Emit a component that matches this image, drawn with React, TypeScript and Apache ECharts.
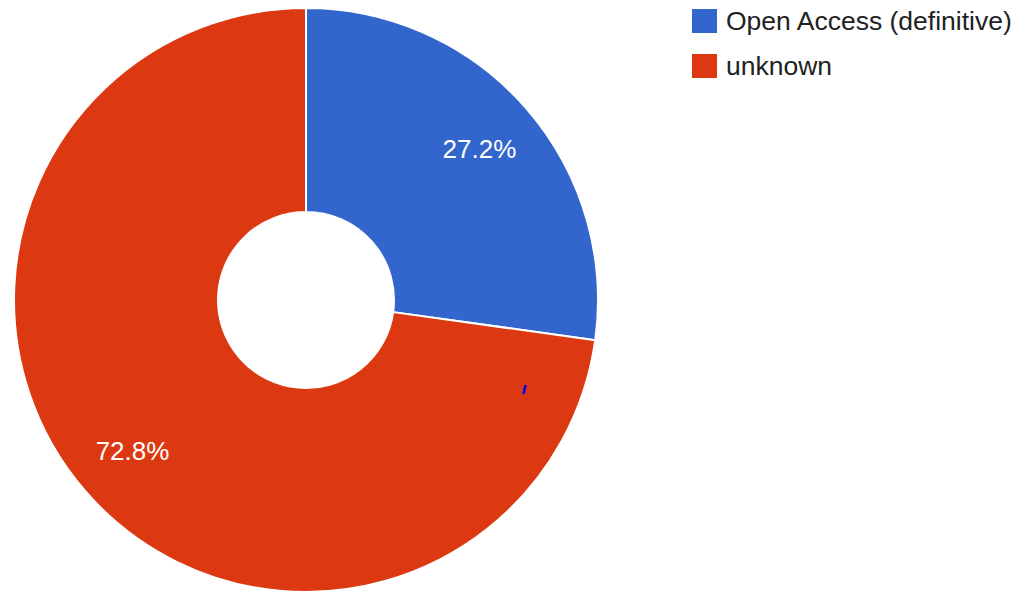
import React, { useEffect, useRef } from "react";
import * as echarts from "echarts";

const categories = ["Open Access (definitive)", "unknown"];
const values = [27.2, 72.8];
const colors = ["#3366cc", "#dc3912"];

export default function App() {
  const ref = useRef<HTMLDivElement>(null);
  useEffect(() => {
    if (!ref.current) return;
    const chart = echarts.init(ref.current, undefined, { renderer: "svg" });
    const data = categories.map((name, i) => ({ name, value: values[i] }));
    chart.setOption({
      animation: false,
      color: colors,
      textStyle: { fontFamily: "Liberation Sans, Arial, sans-serif" },
      legend: {
        orient: "vertical",
        left: 690,
        top: 7,
        padding: 0,
        itemWidth: 27,
        itemHeight: 26,
        itemGap: 17,
        icon: "rect",
        data: categories,
        textStyle: {
          fontSize: 26.5,
          color: "#222222",
          fontFamily: "Liberation Sans, Arial, sans-serif",
          padding: [0, 0, 0, 3],
        },
      },
      series: [
        {
          type: "pie",
          center: [306, 300],
          radius: [88, 292],
          startAngle: 90,
          clockwise: true,
          itemStyle: { borderColor: "#ffffff", borderWidth: 2 },
          label: { show: false },
          labelLine: { show: false },
          emphasis: { disabled: true },
          data,
        },
        {
          type: "pie",
          center: [306, 300],
          radius: [162, 292],
          startAngle: 90,
          clockwise: true,
          silent: true,
          itemStyle: { color: "rgba(0,0,0,0)", borderWidth: 0 },
          label: {
            show: true,
            position: "inside",
            formatter: (p: any) => p.value.toFixed(1) + "%",
            color: "#ffffff",
            fontSize: 26,
            fontFamily: "Liberation Sans, Arial, sans-serif",
          },
          labelLine: { show: false },
          emphasis: { disabled: true },
          data,
        },
      ],
      graphic: [
        {
          type: "line",
          z: 100,
          shape: { x1: 525.5, y1: 385, x2: 523.5, y2: 394 },
          style: { stroke: "#0000ff", lineWidth: 2.5 },
          silent: true,
        },
      ],
    });
    return () => chart.dispose();
  }, []);
  return (
    <div
      ref={ref}
      style={{ position: "absolute", left: 0, top: 0, width: 1021, height: 592 }}
    />
  );
}
